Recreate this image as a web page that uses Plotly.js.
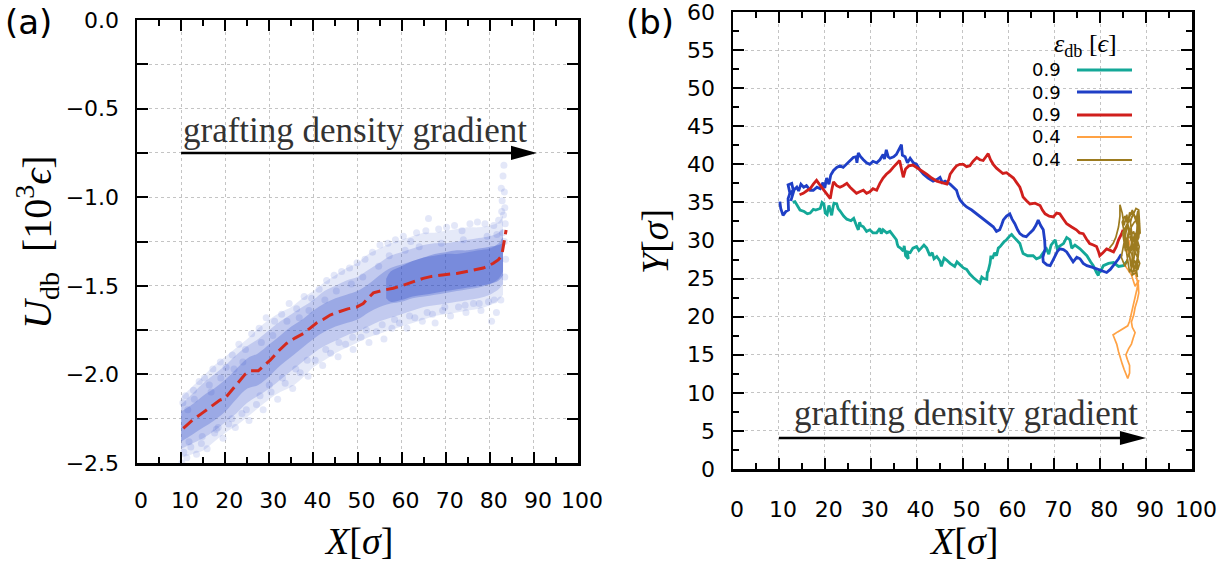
<!DOCTYPE html>
<html><head><meta charset="utf-8">
<script src="https://cdn.plot.ly/plotly-3.0.1.min.js"></script>
<style>html,body{margin:0;padding:0;background:#fff}#chart{width:1229px;height:561px}</style>
</head><body><div id="chart"></div>
<script>
// ---------------- Panel (a) data ----------------
const cloudX = [10,12.5,15,17.5,20,22.5,25,27.5,30,32.5,35,37.5,40,42.5,45,47.5,50,52.5,55,57.5,60,62.5,65,67.5,70,72.5,75,77.5,80,82,83];
const cloudOuterHi = [-2.13,-2.07,-2.01,-1.95,-1.90,-1.85,-1.80,-1.74,-1.69,-1.65,-1.62,-1.57,-1.53,-1.48,-1.44,-1.40,-1.37,-1.32,-1.29,-1.26,-1.24,-1.22,-1.20,-1.20,-1.19,-1.18,-1.17,-1.17,-1.16,-1.14,-1.10];
const cloudOuterLo = [-2.47,-2.45,-2.43,-2.38,-2.33,-2.29,-2.24,-2.19,-2.14,-2.10,-2.07,-2.02,-1.96,-1.92,-1.88,-1.85,-1.82,-1.79,-1.77,-1.75,-1.73,-1.71,-1.69,-1.67,-1.66,-1.65,-1.64,-1.63,-1.61,-1.58,-1.55];
const cloudMidHi = [-2.17,-2.11,-2.05,-2.00,-1.95,-1.89,-1.84,-1.80,-1.75,-1.70,-1.66,-1.62,-1.58,-1.53,-1.50,-1.47,-1.45,-1.41,-1.37,-1.33,-1.31,-1.29,-1.27,-1.26,-1.26,-1.25,-1.24,-1.23,-1.22,-1.20,-1.18];
const cloudMidLo = [-2.42,-2.39,-2.36,-2.32,-2.27,-2.22,-2.16,-2.12,-2.08,-2.03,-1.98,-1.93,-1.88,-1.84,-1.81,-1.78,-1.76,-1.73,-1.70,-1.68,-1.66,-1.64,-1.62,-1.61,-1.60,-1.59,-1.58,-1.57,-1.55,-1.52,-1.49];
const cloudCoreHi = [-2.21,-2.17,-2.12,-2.08,-2.03,-1.97,-1.91,-1.88,-1.83,-1.78,-1.73,-1.69,-1.64,-1.60,-1.57,-1.55,-1.53,-1.49,-1.44,-1.40,-1.38,-1.36,-1.34,-1.33,-1.32,-1.32,-1.31,-1.30,-1.29,-1.26,-1.22];
const cloudCoreLo = [-2.38,-2.34,-2.30,-2.26,-2.21,-2.14,-2.08,-2.06,-2.01,-1.95,-1.90,-1.85,-1.80,-1.76,-1.73,-1.71,-1.69,-1.65,-1.62,-1.60,-1.59,-1.57,-1.56,-1.55,-1.54,-1.53,-1.52,-1.51,-1.49,-1.46,-1.42];
const denseX  = [56.5,57.5,60,62.5,65,67.5,70,72.5,75,77.5,80,82,83];
const denseHi = [-1.46,-1.42,-1.39,-1.36,-1.34,-1.32,-1.31,-1.30,-1.30,-1.29,-1.28,-1.27,-1.26];
const denseLo = [-1.57,-1.59,-1.58,-1.56,-1.55,-1.54,-1.53,-1.52,-1.51,-1.50,-1.49,-1.47,-1.44];

const speckX = [10.2,10.6,11.3,10.4,11.0,12.2,12.8,13.5,14.1,14.6,15.3,15.9,16.4,17.2,17.6,18.4,18.9,19.5,20.2,20.8,
  21.6,22.3,23.1,23.8,24.6,25.4,26.0,27.1,27.7,28.6,29.3,30.4,31.2,31.9,32.8,33.6,34.5,35.3,36.2,37.0,37.9,38.8,39.6,40.4,
  41.3,42.1,43.0,43.9,44.7,45.6,46.4,47.3,48.2,49.0,49.9,50.8,51.7,52.6,53.4,54.3,55.1,56.0,56.9,57.8,58.6,59.5,
  60.4,61.2,62.1,63.0,63.4,64.7,65.5,66.1,67.0,67.6,68.4,69.3,70.2,71.1,72.0,72.9,73.7,74.6,75.5,76.3,77.2,78.0,78.9,79.7,80.4,80.9,81.5,82.0,82.5,
  83.2,83.0,82.6,83.3,82.8,83.4,83.1,82.7,83.5,82.9,83.3,83.6,83.4,
  11.5,13.0,16.8,19.0,22.0,24.0,28.2,30.8,34.0,36.8,39.0,42.6,45.2,48.6,51.2,54.8,57.2,60.8,64.0,69.0,74.0,79.4,81.6,
  11.8,14.8,18.0,21.5,24.8,27.9,30.0,33.0,36.0,38.6,42.8,45.8,48.9,52.0,55.6,58.4,61.8,65.8,69.8,74.4,77.6,81.0];
const speckY = [-2.50,-2.44,-2.47,-2.16,-2.12,-2.41,-2.09,-2.45,-2.04,-2.39,-2.02,-2.42,-2.06,-1.97,-2.33,-2.30,-1.93,-2.36,-1.96,-2.28,
  -1.89,-2.30,-1.83,-2.22,-1.86,-2.26,-1.77,-2.17,-1.74,-2.20,-1.68,-2.10,-1.70,-2.14,-1.66,-2.05,-1.60,-2.08,-1.63,-1.99,-1.56,-2.01,-1.57,-1.92,
  -1.52,-1.95,-1.47,-1.88,-1.44,-1.90,-1.42,-1.83,-1.40,-1.86,-1.37,-1.79,-1.35,-1.82,-1.31,-1.76,-1.27,-1.80,-1.26,-1.74,-1.24,-1.71,
  -1.22,-1.74,-1.25,-1.68,-1.20,-1.70,-1.19,-1.12,-1.66,-1.71,-1.18,-1.64,-1.17,-1.67,-1.16,-1.62,-1.19,-1.65,-1.15,-1.60,-1.14,-1.64,-1.15,-1.59,-1.70,-1.16,-1.65,-1.13,-1.58,
  -0.82,-0.88,-0.95,-0.97,-1.02,-1.06,-1.10,-1.08,-1.15,-1.20,-1.25,-1.35,-1.45,
  -2.20,-2.14,-2.10,-2.02,-1.97,-1.93,-1.82,-1.78,-1.70,-1.68,-1.64,-1.58,-1.53,-1.49,-1.45,-1.39,-1.33,-1.30,-1.28,-1.26,-1.24,-1.22,-1.21,
  -2.38,-2.35,-2.31,-2.25,-2.20,-2.12,-2.06,-2.02,-1.97,-1.92,-1.86,-1.82,-1.79,-1.75,-1.72,-1.69,-1.67,-1.65,-1.62,-1.61,-1.60,-1.58];

const meanX = [10.5,12.5,14.7,16.8,18.8,19.95,21.5,23.4,24.5,25.6,27.5,28.8,30.2,32.0,33.9,35.8,37.7,39.2,40.7,42.2,43.8,46.0,47.8,49.8,51.3,52.4,53.6,55.8,58.1,60.0,61.9,63.4,64.9,66.8,68.7,70.6,72.5,74.4,76.3,78.5,80.8,81.9,82.7,83.2,83.7];
const meanY = [-2.304,-2.26,-2.22,-2.18,-2.145,-2.135,-2.09,-2.03,-2.00,-1.98,-1.98,-1.95,-1.92,-1.87,-1.825,-1.795,-1.77,-1.74,-1.71,-1.69,-1.665,-1.645,-1.63,-1.62,-1.60,-1.57,-1.54,-1.525,-1.514,-1.50,-1.482,-1.47,-1.458,-1.447,-1.439,-1.435,-1.43,-1.42,-1.41,-1.40,-1.373,-1.354,-1.33,-1.26,-1.185];

// ---------------- Panel (b) data ----------------
const tealX = [13.0,13.5,14.2,14.6,15.5,16.2,16.8,17.5,18.0,19.0,19.4,19.8,20.1,20.5,20.9,21.2,21.5,21.8,22.0,22.6,22.9,23.3,24.1,24.8,25.7,26.3,26.6,27.0,27.3,27.6,27.8,28.4,29.1,29.8,30.5,31.3,32.0,32.3,32.7,33.5,34.2,35.0,35.6,35.8,36.0,36.5,37.1,37.3,37.6,38.2,38.0,38.6,39.2,40.0,40.5,41.0,41.6,42.2,42.9,43.4,43.8,44.4,45.1,45.4,46.0,46.6,47.3,48.3,48.8,49.5,50.2,50.9,51.6,52.4,53.1,53.8,54.2,54.6,55.3,55.4,55.6,56.0,56.2,56.5,57.0,57.4,57.8,58.2,59.0,59.6,60.3,60.7,61.1,61.8,62.5,62.9,63.2,64.2,65.4,66.1,66.9,67.6,68.3,68.8,69.3,70.2,70.6,71.0,72.0,72.7,73.4,73.8,74.5,75.6,76.4,77.1,77.9,78.5,79.2,79.6,79.8,80.1,80.7,81.8,82.9,84.0,85.0,85.8];
const tealY = [35.0,35.1,34.4,34.0,33.8,33.5,33.6,34.1,34.0,34.2,35.0,34.8,33.6,33.4,34.6,34.0,33.3,34.4,34.9,34.8,34.2,33.9,33.2,32.8,32.6,32.9,32.3,31.8,31.4,32.4,32.0,31.8,31.2,31.4,31.0,31.0,31.6,30.9,31.4,31.0,31.2,30.6,30.1,29.5,29.2,29.0,28.6,29.3,28.0,27.6,28.5,28.4,29.0,29.2,28.7,29.0,29.4,29.0,28.0,28.4,27.6,27.9,27.3,26.6,27.7,27.4,27.0,26.6,27.2,26.8,26.4,26.2,25.6,25.1,24.8,24.4,25.2,25.0,24.9,25.8,26.0,27.0,28.0,27.6,28.4,28.0,29.0,29.2,29.8,30.1,30.6,30.8,30.5,30.0,29.6,28.8,28.3,28.0,28.0,27.6,27.8,28.4,28.9,28.2,29.4,30.1,29.0,29.2,29.6,30.4,30.1,29.0,29.4,28.9,28.4,28.0,27.2,26.7,25.8,25.4,26.2,26.0,26.7,27.0,27.1,26.6,26.7,27.2];

const blueX = [10.2,10.4,10.9,11.5,12.1,12.0,12.4,12.0,12.8,13.2,12.6,13.4,12.2,13.9,14.3,14.8,15.4,16.0,16.8,17.5,18.3,19.0,19.6,20.0,20.4,20.9,21.3,21.9,22.6,23.3,24.0,24.8,25.5,26.2,26.8,27.0,27.3,27.8,28.4,29.1,29.8,30.5,31.3,32.0,32.7,33.0,33.4,33.8,34.2,35.0,35.6,36.1,36.7,36.9,37.5,38.0,38.6,39.3,40.0,40.8,41.5,42.5,43.6,44.4,45.1,45.6,46.2,47.3,48.0,48.7,49.1,49.5,50.2,50.9,52.0,53.1,53.8,54.5,55.6,56.7,57.4,58.1,58.5,58.9,59.6,60.3,60.8,61.4,62.0,62.5,63.2,63.9,64.7,65.4,66.0,66.5,67.0,67.6,67.9,68.0,67.5,67.6,68.4,69.1,69.7,70.2,70.7,71.2,72.0,72.7,73.4,74.1,74.9,75.6,76.3,77.1,78.2,79.2,80.3,81.4,82.2,82.9,83.5,84.0,84.6];
const blueY = [35.1,34.2,33.3,33.8,34.0,35.5,36.2,37.3,37.5,36.4,35.2,36.8,36.0,37.0,36.5,37.4,37.0,37.2,36.6,36.6,37.0,36.8,37.6,36.9,38.2,37.4,38.6,39.2,39.6,39.8,39.6,40.1,40.4,40.9,41.0,40.2,41.5,41.0,40.6,40.2,40.0,40.4,40.2,40.6,41.3,40.7,41.9,41.0,40.8,41.0,41.3,42.0,42.6,41.2,41.0,40.2,40.8,40.2,40.0,39.2,38.7,38.2,37.8,38.0,38.3,37.6,37.8,37.4,37.0,36.6,35.8,35.3,34.8,34.4,34.0,33.5,33.2,32.9,32.4,31.8,31.2,31.4,32.0,32.7,33.2,33.5,32.8,32.2,31.4,30.9,30.6,30.5,31.0,31.4,32.0,32.7,32.0,31.4,30.0,28.9,27.8,27.2,26.8,26.7,27.4,28.0,28.6,28.9,28.8,28.5,27.8,27.2,27.8,27.6,27.0,26.7,26.5,26.3,26.0,25.8,26.2,26.7,27.2,27.6,28.2];

const redX = [14.5,15.3,16.0,16.8,17.5,18.2,18.8,19.3,19.9,20.4,21.2,21.5,21.9,22.6,23.3,24.0,24.8,25.5,26.2,26.9,27.6,28.4,29.1,29.8,30.5,31.3,32.0,32.7,33.4,34.2,34.9,35.6,36.3,36.7,37.1,37.6,38.3,39.2,40.0,41.1,42.2,43.3,44.4,45.5,46.6,47.0,47.3,48.0,48.7,49.4,50.2,50.9,51.6,52.3,53.1,53.8,54.5,55.1,55.6,56.1,56.7,57.4,58.1,58.8,59.6,60.3,61.1,61.8,62.5,62.9,63.2,64.0,64.7,65.8,66.9,67.4,68.0,68.9,69.8,70.5,71.2,72.0,72.7,73.7,74.8,75.5,76.3,77.0,77.7,78.5,79.2,79.6,79.9,80.6,81.4,82.2,82.9,83.5,84.0,84.6,85.0];
const redY = [36.0,36.2,36.5,36.8,37.4,37.9,37.4,37.0,36.6,36.2,35.5,36.6,37.7,37.2,37.0,37.2,37.5,37.0,36.6,36.2,36.4,36.6,36.2,36.4,36.8,36.6,37.5,38.2,38.7,39.1,39.6,40.0,40.5,39.4,38.3,39.4,39.8,39.9,39.6,39.2,38.7,38.2,37.8,37.6,37.4,38.0,38.7,39.3,39.8,40.0,40.0,39.7,39.8,40.4,40.9,40.6,40.5,41.0,41.4,40.6,40.0,39.5,39.1,38.8,38.9,38.6,38.2,37.6,37.0,36.3,35.7,35.2,34.8,34.9,34.6,34.0,33.5,33.2,33.1,33.6,33.5,32.8,32.2,31.8,31.4,31.0,30.9,30.2,29.6,29.4,29.2,28.6,28.0,28.4,28.9,28.7,28.5,29.2,30.1,30.8,31.4];

const orangeX = [85.2,86.0,86.8,87.6,88.4,88.0,87.6,87.2,86.8,86.4,86.0,85.4,84.8,83.8,82.8,83.2,83.6,84.0,84.4,84.8,85.2,85.6,86.0,86.4,86.4,85.9,85.6,86.2,86.8,87.2,87.6,87.0,86.8,87.3,87.6,88.1,88.4,88.3,88.0,87.6,87.2,86.6,86.0,86.4,85.8];
const orangeY = [26.9,26.2,25.5,24.0,24.8,23.6,22.6,21.4,20.2,19.4,18.8,18.6,18.3,18.0,17.6,17.0,16.4,15.4,14.5,13.8,13.1,12.4,11.9,12.6,13.6,14.4,15.0,15.8,16.4,17.2,17.9,18.6,19.3,20.2,21.2,22.2,23.1,24.2,25.0,25.8,26.4,27.4,28.6,29.8,30.4];

const oliveX = [82.0,82.8,83.4,84.0,84.3,84.3,84.8,85.2,85.8,86.2,85.6,86.4,87.0,86.6,87.2,87.8,88.2,88.0,87.4,88.3,87.8,88.1,87.5,86.8,87.2,88.4,88.6,87.6,86.4,85.6,85.0,84.6,85.4,86.0,86.8,87.6,88.5,88.0,87.0,86.6,86.0,86.8,87.4,88.5,87.9,87.2,86.4,85.8,85.2,86.2,87.0,88.3,88.0,87.3,86.5,87.7,88.6,88.2,87.4,86.9,86.2,85.5,84.9,85.9,86.9,87.8,88.4,88.7,88.1,87.1,86.3,85.4,84.8,85.6,86.7,87.5,88.4,87.9,86.8];
const oliveY = [29.0,29.6,30.4,31.8,33.2,34.7,33.6,32.0,33.4,31.2,29.6,28.4,30.2,32.4,33.8,32.6,33.9,31.4,29.6,28.2,26.6,25.2,27.4,26.8,28.8,30.4,32.2,33.2,33.6,31.0,29.2,27.8,26.6,27.8,29.4,31.0,29.2,27.4,25.6,27.0,30.2,31.8,32.4,33.0,30.0,27.0,25.8,28.0,30.6,32.8,34.0,31.6,29.0,31.2,30.4,28.4,27.0,26.2,26.0,28.2,29.0,28.6,31.0,32.2,33.0,34.2,34.0,31.0,30.6,29.8,31.6,33.2,32.4,30.0,28.6,29.8,28.6,25.8,25.4];

const legendLabels = ['0.9','0.9','0.9','0.4','0.4'];
const trajColors = ['#14a898','#1f3fc6','#d01f1c','#ffa244','#9c7b1f'];
const trajWidths = [2.8,2.8,2.8,1.7,1.7];

// ---------------- helpers ----------------
const W = 1229, H = 561;
const px = v => v / W;
const py = v => 1 - v / H;
const blue = a => `rgba(40,70,200,${a})`;

function band(xs, lo, hi, alpha) {
  return [
    {x: xs, y: lo, xaxis: 'x', yaxis: 'y', mode: 'lines', line: {width: 0, shape: 'spline'}, hoverinfo: 'skip', showlegend: false},
    {x: xs, y: hi, xaxis: 'x', yaxis: 'y', mode: 'lines', line: {width: 0, shape: 'spline'}, fill: 'tonexty', fillcolor: blue(alpha), hoverinfo: 'skip', showlegend: false}
  ];
}

const traces = [];
traces.push(...band(cloudX, cloudOuterLo, cloudOuterHi, 0.12));
traces.push(...band(cloudX, cloudMidLo, cloudMidHi, 0.19));
traces.push(...band(cloudX, cloudCoreLo, cloudCoreHi, 0.25));
traces.push(...band(denseX, denseLo, denseHi, 0.30));
traces.push({x: speckX, y: speckY, xaxis: 'x', yaxis: 'y', mode: 'markers', marker: {size: 7, color: blue(0.13), line: {width: 0}}, showlegend: false});
traces.push({x: meanX, y: meanY, xaxis: 'x', yaxis: 'y', mode: 'lines', line: {color: '#d42a1e', width: 3, dash: '12px,6px'}, showlegend: false});

const trajX = [tealX, blueX, redX, orangeX, oliveX];
const trajY = [tealY, blueY, redY, orangeY, oliveY];
for (let i = 0; i < 5; i++) {
  traces.push({x: trajX[i], y: trajY[i], xaxis: 'x2', yaxis: 'y2', mode: 'lines', name: legendLabels[i],
    line: {color: trajColors[i], width: trajWidths[i]}, showlegend: false});
}

const tickFont = {family: 'DejaVu Sans', size: 22, color: '#000'};
const gridStyle = {showgrid: true, gridcolor: '#c4c4c4', griddash: 'dot', gridwidth: 1};
const common = Object.assign({
  ticks: 'inside', ticklen: 11, tickwidth: 2, tickcolor: '#000',
  showline: true, linewidth: 2.5, linecolor: '#000', mirror: 'allticks',
  zeroline: false, tickfont: tickFont, fixedrange: true, ticklabeloverflow: 'allow'
}, gridStyle);

const layout = {
  width: W, height: H, margin: {l: 0, r: 0, t: 0, b: 0},
  paper_bgcolor: '#fff', plot_bgcolor: '#fff', showlegend: false,
  xaxis: Object.assign({}, common, {domain: [px(137), px(578)], anchor: 'y', range: [0, 100], tick0: 0, dtick: 10,
    minor: {dtick: 5, ticklen: 6, tickwidth: 2, tickcolor: '#000', ticks: 'inside', showgrid: false},
    ticklabelstandoff: 16, ticklabelshift: 4}),
  yaxis: Object.assign({}, common, {domain: [py(463), py(20)], anchor: 'x', range: [-2.5, 0], tick0: 0, dtick: 0.5, tickformat: '.1f',
    minor: Object.assign({dtick: 0.25, ticklen: 11, tickwidth: 2, tickcolor: '#000', ticks: 'inside'}, gridStyle),
    ticklabelstandoff: 11}),
  xaxis2: Object.assign({}, common, {domain: [px(733), px(1192)], anchor: 'y2', range: [0, 100], tick0: 0, dtick: 10,
    minor: {dtick: 5, ticklen: 6, tickwidth: 2, tickcolor: '#000', ticks: 'inside', showgrid: false},
    ticklabelstandoff: 19, ticklabelshift: 4}),
  yaxis2: Object.assign({}, common, {domain: [py(469), py(12)], anchor: 'x2', range: [0, 60], tick0: 0, dtick: 5,
    minor: {dtick: 2.5, ticklen: 6, tickwidth: 2, tickcolor: '#000', ticks: 'inside', showgrid: false},
    ticklabelstandoff: 11}),
  shapes: [],
  annotations: []
};

// arrows (grafting density gradient)
function arrow(xr, yr, x0, x1, y, headLen, headHalf) {
  layout.shapes.push({type: 'line', xref: xr, yref: yr, x0: x0, x1: x1 - headLen * 0.8, y0: y, y1: y, line: {color: '#000', width: 2.5}});
  layout.shapes.push({type: 'path', xref: xr, yref: yr, fillcolor: '#000', line: {width: 0},
    path: `M${x1},${y} L${x1 - headLen},${y + headHalf} L${x1 - headLen},${y - headHalf} Z`});
}
arrow('x', 'y', 10, 90.7, -0.75, 5.9, 0.04);
arrow('x2', 'y2', 10, 90.0, 4.07, 5.7, 0.92);

const serif = 'Liberation Serif, DejaVu Serif, serif';
const gradFont = {family: serif, size: 35, color: '#333'};
layout.annotations.push({xref: 'x', yref: 'y', x: 10.0, y: -0.625, xanchor: 'left', yanchor: 'middle', showarrow: false, text: 'grafting density gradient', font: gradFont});
layout.annotations.push({xref: 'x2', yref: 'y2', x: 12.8, y: 7.3, xanchor: 'left', yanchor: 'middle', showarrow: false, text: 'grafting density gradient', font: gradFont});

// axis titles
const titleFont = {family: serif, size: 38, color: '#000'};
const xyTitle = v => `<i>${v}</i>[<i>σ</i>]`;
layout.annotations.push({xref: 'paper', yref: 'paper', x: px(358), y: py(541), xanchor: 'center', yanchor: 'middle', showarrow: false,
  text: xyTitle('X'), font: titleFont});
layout.annotations.push({xref: 'paper', yref: 'paper', x: px(964), y: py(541), xanchor: 'center', yanchor: 'middle', showarrow: false,
  text: xyTitle('X'), font: titleFont});
layout.annotations.push({xref: 'paper', yref: 'paper', x: px(655), y: py(242), xanchor: 'center', yanchor: 'middle', showarrow: false, textangle: -90,
  text: xyTitle('Y'), font: titleFont});
layout.annotations.push({xref: 'paper', yref: 'paper', x: px(37), y: py(242), xanchor: 'center', yanchor: 'middle', showarrow: false, textangle: -90,
  text: '<i>U</i><sub>db</sub>  [10<sup>3</sup><i>ϵ</i>]', font: {family: serif, size: 40, color: '#000'}});

// panel labels
const panelFont = {family: 'DejaVu Sans', size: 34, color: '#000'};
layout.annotations.push({xref: 'paper', yref: 'paper', x: px(3), y: py(22), xanchor: 'left', yanchor: 'middle', showarrow: false, text: '(a)', font: panelFont});
layout.annotations.push({xref: 'paper', yref: 'paper', x: px(624), y: py(22), xanchor: 'left', yanchor: 'middle', showarrow: false, text: '(b)', font: panelFont});

// legend (text left of line sample, as in the original)
layout.annotations.push({xref: 'paper', yref: 'paper', x: px(1085), y: py(45), xanchor: 'center', yanchor: 'middle', showarrow: false,
  text: '<i>ε</i><sub>db</sub> [<i>ϵ</i>]', font: {family: serif, size: 26, color: '#000'}});
const legY = [70, 92, 115, 137, 160];
for (let i = 0; i < 5; i++) {
  layout.annotations.push({xref: 'paper', yref: 'paper', x: px(1063), y: py(legY[i]), xanchor: 'right', yanchor: 'middle', showarrow: false,
    text: legendLabels[i], font: {family: 'DejaVu Sans', size: 18, color: '#000'}});
  layout.shapes.push({type: 'line', xref: 'paper', yref: 'paper', x0: px(1077), x1: px(1132), y0: py(legY[i]), y1: py(legY[i]),
    line: {color: trajColors[i], width: trajWidths[i] + 0.3}});
}

Plotly.newPlot('chart', traces, layout, {displayModeBar: false, staticPlot: true});
</script></body></html>
